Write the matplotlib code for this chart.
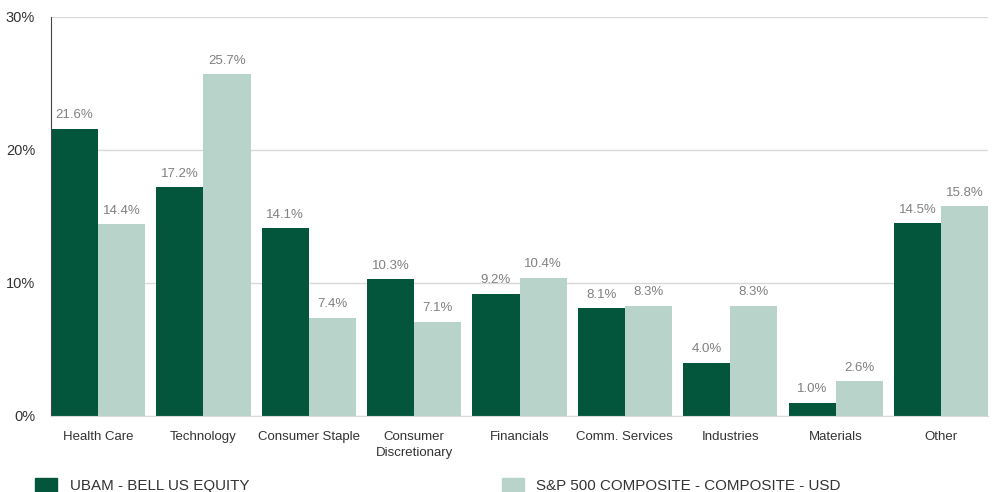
import numpy as np
import matplotlib
matplotlib.use("Agg")
import matplotlib.pyplot as plt
from matplotlib.patches import Rectangle

plt.rcParams["font.family"] = ["Liberation Sans", "DejaVu Sans"]

categories = ["Health Care", "Technology", "Consumer Staple", "Consumer\nDiscretionary",
              "Financials", "Comm. Services", "Industries", "Materials", "Other"]
fund = [21.6, 17.2, 14.1, 10.3, 9.2, 8.1, 4.0, 1.0, 14.5]
bench = [14.4, 25.7, 7.4, 7.1, 10.4, 8.3, 8.3, 2.6, 15.8]
yticks = [0, 10, 20, 30]
fund_name = "UBAM - BELL US EQUITY"
bench_name = "S&P 500 COMPOSITE - COMPOSITE - USD"

dark = "#03563c"
light = "#b8d3ca"

fig = plt.figure(figsize=(9.95, 4.92), dpi=100)
ax = fig.add_axes([0.0513, 0.1545, 0.9417, 0.811])

x = np.arange(len(categories))
w = 0.447
ax.bar(x - w / 2, fund, w, color=dark)
ax.bar(x + w / 2, bench, w, color=light)

# value labels above bars
for xi, v in zip(x - w / 2, fund):
    ax.text(xi, v + 0.55, "{:.1f}%".format(v), ha="center", va="bottom", fontsize=9.5, color="#808080")
for xi, v in zip(x + w / 2, bench):
    ax.text(xi, v + 0.55, "{:.1f}%".format(v), ha="center", va="bottom", fontsize=9.5, color="#808080")

ax.set_xlim(-w, len(categories) - 1 + w)
ax.set_ylim(0, 30)
ax.set_yticks(yticks)
ax.set_yticklabels(["{}%".format(t) for t in yticks])
ax.set_xticks(x)
ax.set_xticklabels(categories, linespacing=1.4)
ax.tick_params(axis="both", length=0, colors="#333333")
ax.tick_params(axis="y", pad=11.5, labelsize=10.5)
ax.tick_params(axis="x", pad=11, labelsize=9.5)

ax.grid(axis="y", color="#d9d9d9", linewidth=1)
ax.set_axisbelow(True)
for s in ["top", "right"]:
    ax.spines[s].set_visible(False)
ax.spines["left"].set_color("#444444")
ax.spines["bottom"].set_color("#d9d9d9")

# legend at bottom
fig.patches.append(Rectangle((35 / 995, 0), 22 / 995, 14 / 492,
                             transform=fig.transFigure, color=dark))
fig.text(70 / 995, 1 - 486 / 492, fund_name, fontsize=10.9, color="#333333", va="center")
fig.patches.append(Rectangle((502 / 995, 0), 22 / 995, 14 / 492,
                             transform=fig.transFigure, color=light))
fig.text(536 / 995, 1 - 486 / 492, bench_name, fontsize=10.9, color="#333333", va="center")

fig.savefig("out.png", dpi=100)
